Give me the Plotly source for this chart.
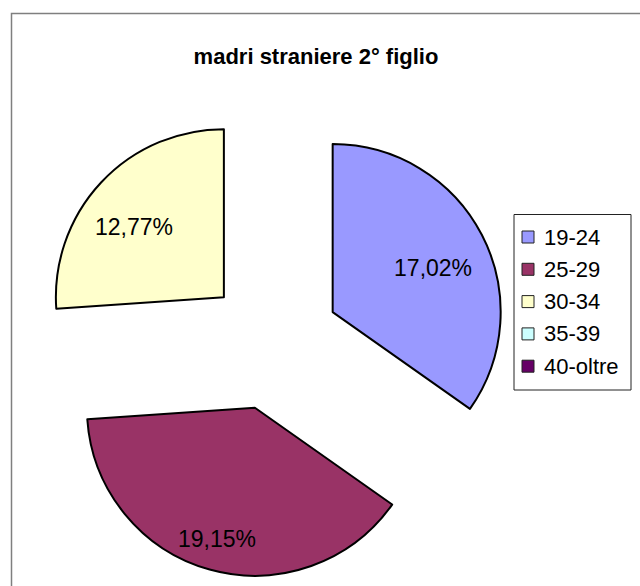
import plotly.graph_objects as go

categories = ["19-24", "25-29", "30-34", "35-39", "40-oltre"]
values = [17.02, 19.15, 12.77, 0, 0]
colors = ["#9999FF", "#993366", "#FFFFCC", "#CCFFFF", "#660066"]
title_text = "madri straniere 2° figlio"

W = 640
HF = 620  # figure is a little taller than the 586 px view; the chart frame runs past the bottom edge
FONT = "Liberation Sans, Arial, sans-serif"
PULL = 0.40
R = 168
CX, CY = 273, 343
EXT = R * (1 + PULL)


def py(y):
    return 1 - y / HF


def domain(dx=0, dy=0):
    return dict(x=[(CX + dx - EXT) / W, (CX + dx + EXT) / W],
                y=[py(CY + dy + EXT), py(CY + dy - EXT)])


n = len(values)
label_fmt = "%{value:.2f}%"

fig = go.Figure()
# filled, outlined slices
fig.add_trace(go.Pie(
    labels=categories, values=values,
    marker=dict(colors=colors,
                line=dict(color="black", width=[2 if v > 0 else 0 for v in values])),
    pull=[PULL] * n, sort=False, direction="clockwise", rotation=0,
    textinfo="none", domain=domain(), showlegend=False,
    hoverinfo="label+value",
))
# transparent overlays carrying the percentage labels (hole pushes the labels outward,
# a small domain offset mimics the label placement of the original)
for hole, keep in [(0.4, {0, 2}), (0.5, {1})]:
    fig.add_trace(go.Pie(
        labels=categories, values=values, hole=hole,
        marker=dict(colors=["rgba(0,0,0,0)"] * n, line=dict(width=0)),
        pull=[PULL] * n, sort=False, direction="clockwise", rotation=0,
        texttemplate=[label_fmt if (i in keep and v > 0) else "" for i, v in enumerate(values)],
        textposition="inside", insidetextorientation="horizontal",
        textfont=dict(family=FONT, size=23, color="black"),
        domain=domain(-4, 10), showlegend=False, hoverinfo="skip",
    ))

shapes = []
annotations = []
# outer chart border
shapes.append(dict(type="rect", xref="paper", yref="paper",
                   x0=11.5 / W, x1=1.05, y0=py(HF + 20), y1=py(13.5),
                   line=dict(color="#7f7f7f", width=1.5), fillcolor="rgba(0,0,0,0)"))
# legend box
lx0, lx1, ly0, ly1 = 514, 631, 214.5, 390
shapes.append(dict(type="rect", xref="paper", yref="paper",
                   x0=lx0 / W, x1=lx1 / W, y0=py(ly1), y1=py(ly0),
                   line=dict(color="#222222", width=1), fillcolor="white"))
row0, step = 237, 32.3
for i, (cat, col) in enumerate(zip(categories, colors)):
    cy = row0 + i * step
    shapes.append(dict(type="rect", xref="paper", yref="paper",
                       x0=522 / W, x1=534 / W, y0=py(cy + 6), y1=py(cy - 6),
                       line=dict(color="#222222", width=1), fillcolor=col))
    annotations.append(dict(text=cat, xref="paper", yref="paper",
                            x=542 / W, y=py(cy), xanchor="left", yanchor="middle",
                            showarrow=False, font=dict(family=FONT, size=22, color="black")))

fig.update_layout(
    width=W, height=HF,
    margin=dict(l=0, r=0, t=0, b=0),
    paper_bgcolor="white",
    plot_bgcolor="white",
    separators=",.",
    uniformtext=dict(minsize=23, mode="show"),
    title=dict(text="<b>" + title_text + "</b>", x=316 / W, y=py(56.5),
               xanchor="center", yanchor="middle",
               font=dict(family=FONT, size=22, color="black")),
    shapes=shapes,
    annotations=annotations,
)

fig.write_html("out.html", config={"displayModeBar": False},
               post_script="document.body.style.margin='0px';"
                           "document.body.style.overflow='hidden';"
                           "document.documentElement.style.overflow='hidden';")
